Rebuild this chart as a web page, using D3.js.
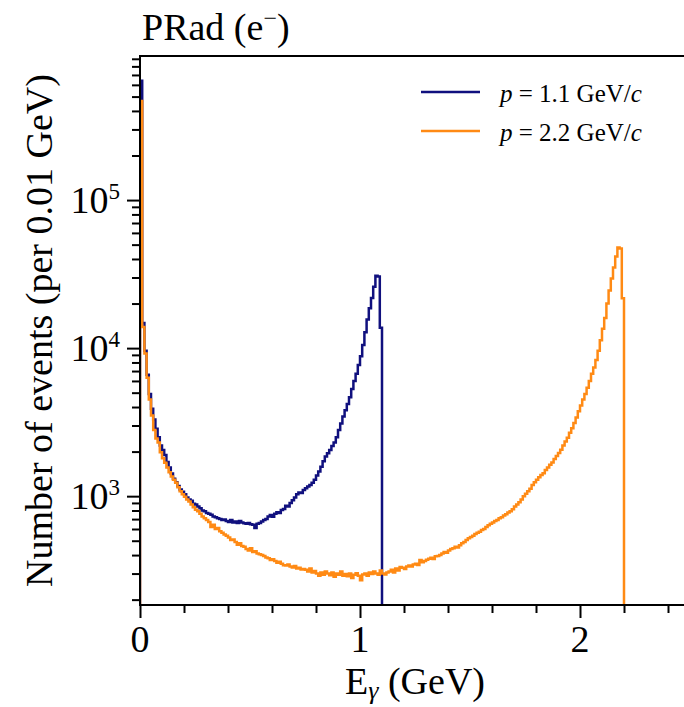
<!DOCTYPE html>
<html>
<head>
<meta charset="utf-8">
<script src="https://cdn.jsdelivr.net/npm/d3@7"></script>
<style>
  body { margin: 0; background: #fff; }
  text { font-family: "Liberation Serif", "Times New Roman", serif; fill: #000; }
</style>
</head>
<body>
<div id="chart"></div>
<script>
// bin width 0.01 GeV, bins start at 0
const binWidth = 0.01;

// p = 1.1 GeV/c
const blueCounts = [
  640000, 14800, 9600, 6600, 4900, 3900, 3300, 2850, 2500, 2200,
  2050, 1900, 1700, 1560, 1420, 1310, 1240, 1170, 1110, 1070,
  1030, 980, 950, 930, 890, 880, 850, 830, 800, 790,
  770, 760, 750, 730, 720, 710, 700, 690, 695, 680,
  670, 690, 665, 675, 660, 680, 665, 655, 650, 660,
  645, 640, 610, 650, 660, 675, 690, 700, 730, 745,
  725, 760, 780, 770, 805, 820, 860, 850, 900, 940,
  980, 1030, 1060, 1050, 1100, 1130, 1160, 1190, 1230, 1290,
  1380, 1470, 1580, 1720, 1850, 1950, 2050, 2180, 2300, 2500,
  2800, 3100, 3450, 3800, 4200, 4650, 5300, 6000, 6700, 7700,
  8800, 10500, 12800, 15600, 18600, 21800, 26000, 30800, 30500, 13700
];

// p = 2.2 GeV/c
const orangeCounts = [
  467000, 13900, 9200, 6300, 4500, 3500, 2800, 2450, 2300, 1980,
  1800, 1680, 1560, 1450, 1360, 1290, 1230, 1150, 1080, 1030,
  990, 950, 920, 880, 840, 810, 790, 760, 730, 710,
  690, 670, 620, 640, 600, 610, 580, 565, 550, 540,
  525, 505, 510, 490, 470, 480, 460, 455, 440, 430,
  445, 420, 425, 410, 405, 400, 395, 385, 380, 370,
  375, 365, 355, 360, 350, 342, 340, 345, 335, 330,
  338, 325, 328, 320, 322, 318, 310, 325, 305, 312,
  300, 290, 305, 295, 310, 300, 292, 305, 285, 300,
  295, 310, 290, 298, 288, 300, 280, 295, 302, 290,
  270, 296, 300, 290, 305, 298, 310, 300, 295, 315,
  300, 296, 305, 310, 318, 305, 325, 315, 332, 328,
  322, 335, 340, 335, 345, 350, 343, 370, 358, 365,
  372, 378, 383, 376, 392, 395, 400, 410, 420, 415,
  430, 440, 445, 455, 450, 466, 480, 490, 505, 520,
  530, 540, 555, 565, 575, 590, 600, 620, 635, 650,
  665, 680, 690, 710, 720, 740, 755, 775, 790, 815,
  850, 880, 910, 950, 1000, 1040, 1080, 1120, 1190, 1240,
  1290, 1340, 1390, 1430, 1500, 1560, 1630, 1690, 1780, 1870,
  1960, 2060, 2200, 2340, 2480, 2680, 2880, 3120, 3400, 3750,
  4100, 4500, 4900, 5400, 6000, 6700, 7400, 8300, 9600, 11300,
  13500, 16000, 20000, 24500, 29500, 35000, 41500, 47900, 47000, 21700
];

const seriesNames = ["1.1", "2.2"];
const seriesColors = ["#10107e", "#ff8a14"];

const xMajorTicks = [0, 1, 2];
const xMinorTicks = [0.2, 0.4, 0.6, 0.8, 1.2, 1.4, 1.6, 1.8, 2.2, 2.4];
const yMajorTicks = [1e3, 1e4, 1e5];
const yMajorExp = ["3", "4", "5"];

const width = 684, height = 707;
const margin = {left: 140, top: 56, right: -6, bottom: 102};
const plotW = width - margin.left - margin.right;
const plotH = height - margin.top - margin.bottom;

const svg = d3.select("#chart").append("svg")
  .attr("width", width)
  .attr("height", height);

const x = d3.scaleLinear().domain([0, 2.5]).range([margin.left, margin.left + plotW]);
const y = d3.scaleLog().domain([184, 9.4e5]).range([margin.top + plotH, margin.top]);

// minor ticks for the log axis
let yMinorTicks = [];
[100, 1000, 10000, 100000].forEach(function(dec) {
  for (let k = 2; k <= 9; k++) {
    let v = k * dec;
    if (v > y.domain()[0] && v < y.domain()[1]) yMinorTicks.push(v);
  }
});

svg.append("defs").append("clipPath").attr("id", "plot-clip")
  .append("rect")
  .attr("x", margin.left).attr("y", margin.top)
  .attr("width", plotW).attr("height", plotH);

// histograms as steps
function stepPoints(counts) {
  let pts = [[x(0), y.range()[0]]];
  counts.forEach(function(c, i) {
    pts.push([x(i * binWidth), y(c)]);
    pts.push([x((i + 1) * binWidth), y(c)]);
  });
  pts.push([x(counts.length * binWidth), y.range()[0]]);
  return pts;
}

const line = d3.line();
const histG = svg.append("g").attr("clip-path", "url(#plot-clip)");
[blueCounts, orangeCounts].forEach(function(counts, i) {
  histG.append("path")
    .attr("d", line(stepPoints(counts)))
    .attr("fill", "none")
    .attr("stroke", seriesColors[i])
    .attr("stroke-width", 2.5)
    .attr("stroke-linejoin", "miter");
});

// axes ticks
function styleAxis(g) {
  g.select(".domain").remove();
  g.selectAll(".tick line").attr("stroke", "#000").attr("stroke-width", 2);
  g.selectAll(".tick text").remove();
}

svg.append("g")
  .attr("transform", "translate(0," + y.range()[0] + ")")
  .call(d3.axisBottom(x).tickValues(xMajorTicks).tickSize(13))
  .call(styleAxis);
svg.append("g")
  .attr("transform", "translate(0," + y.range()[0] + ")")
  .call(d3.axisBottom(x).tickValues(xMinorTicks).tickSize(8))
  .call(styleAxis);
svg.append("g")
  .attr("transform", "translate(" + margin.left + ",0)")
  .call(d3.axisLeft(y).tickValues(yMajorTicks).tickSize(13))
  .call(styleAxis);
svg.append("g")
  .attr("transform", "translate(" + margin.left + ",0)")
  .call(d3.axisLeft(y).tickValues(yMinorTicks).tickSize(8))
  .call(styleAxis);

// frame
svg.append("path")
  .attr("d", "M" + x.range()[1] + "," + y.range()[1] + "H" + margin.left + "V" + y.range()[0] + "H" + x.range()[1])
  .attr("fill", "none")
  .attr("stroke", "#000")
  .attr("stroke-width", 2);

// tick labels
svg.append("g").selectAll("text")
  .data(xMajorTicks)
  .enter().append("text")
  .attr("x", function(d) { return x(d); })
  .attr("y", 652)
  .attr("text-anchor", "middle")
  .style("font-size", "38px")
  .text(function(d) { return d; });

let yLab = svg.append("g").selectAll("text")
  .data(yMajorTicks)
  .enter().append("text")
  .attr("x", 120)
  .attr("y", function(d) { return y(d) + 13; })
  .attr("text-anchor", "end")
  .style("font-size", "38px");
yLab.append("tspan").text("10");
yLab.append("tspan")
  .attr("dy", -14)
  .style("font-size", "23px")
  .text(function(d, i) { return yMajorExp[i]; });

// axis titles
let xTitle = svg.append("text")
  .attr("x", 415)
  .attr("y", 694)
  .attr("text-anchor", "middle")
  .style("font-size", "38px");
xTitle.append("tspan").text("E");
xTitle.append("tspan").attr("dy", 5).style("font-size", "26px").style("font-style", "italic").text("\u03b3");
xTitle.append("tspan").attr("dy", -5).text(" (GeV)");

svg.append("text")
  .attr("transform", "translate(52," + (margin.top + plotH / 2) + ") rotate(-90)")
  .attr("text-anchor", "middle")
  .style("font-size", "38px")
  .text("Number of events (per 0.01 GeV)");

let title = svg.append("text")
  .attr("x", 142)
  .attr("y", 40)
  .style("font-size", "38px");
title.append("tspan").text("PRad (e");
title.append("tspan").attr("dy", -14).style("font-size", "24px").text("\u2212");
title.append("tspan").attr("dy", 14).text(")");

// legend
const legend = svg.append("g");
seriesNames.forEach(function(name, i) {
  let ly = 92 + i * 39;
  legend.append("line")
    .attr("x1", 421).attr("x2", 480)
    .attr("y1", ly).attr("y2", ly)
    .attr("stroke", seriesColors[i])
    .attr("stroke-width", 2.5);
  let t = legend.append("text")
    .attr("x", 500)
    .attr("y", ly + 10)
    .style("font-size", "25px");
  t.append("tspan").style("font-style", "italic").text("p");
  t.append("tspan").text(" = " + name + " GeV/");
  t.append("tspan").style("font-style", "italic").text("c");
});
</script>
</body>
</html>
